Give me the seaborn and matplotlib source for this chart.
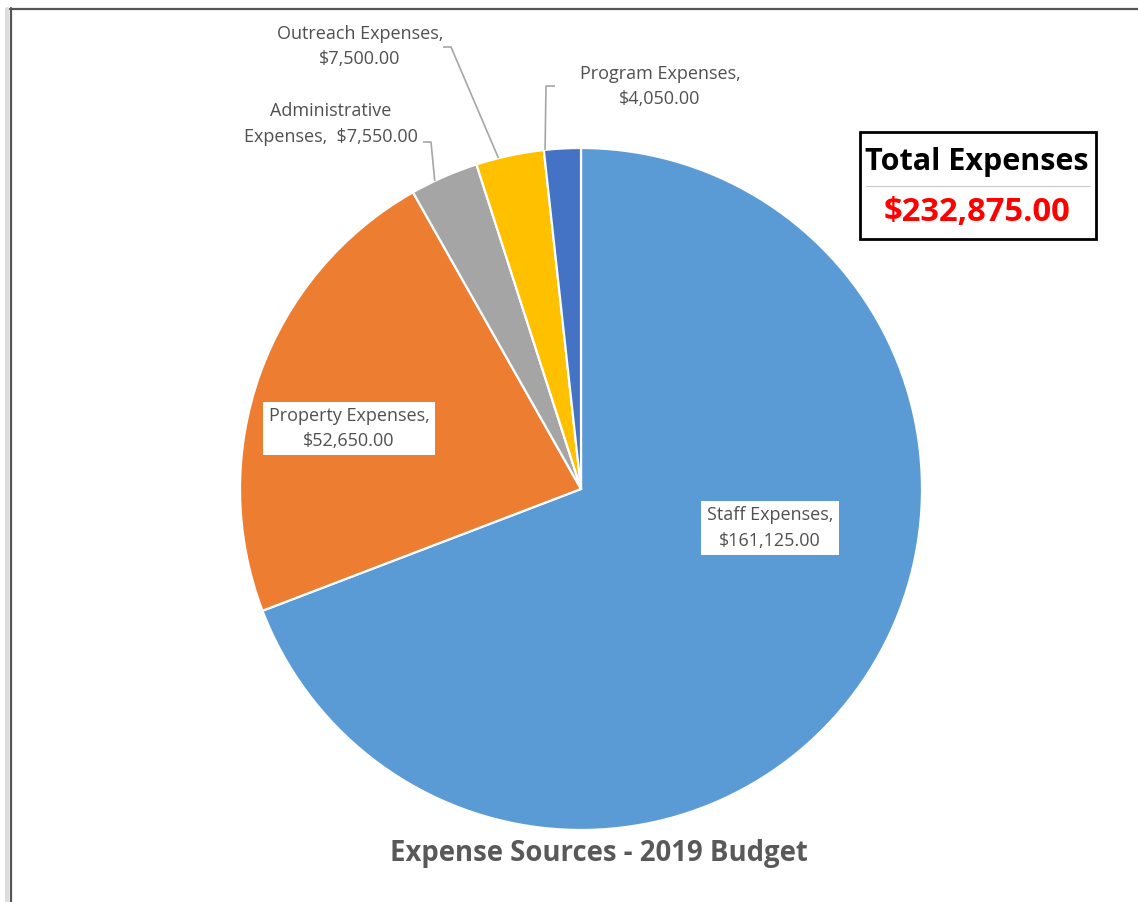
import matplotlib
matplotlib.use("Agg")
import matplotlib.pyplot as plt
import seaborn as sns
import numpy as np
from matplotlib.lines import Line2D
from matplotlib.patches import Rectangle

# data
categories = ["Staff Expenses", "Property Expenses", "Administrative Expenses",
              "Outreach Expenses", "Program Expenses"]
amounts = [161125, 52650, 7550, 7500, 4050]
colors = ["#5B9BD5", "#ED7D31", "#A5A5A5", "#FFC000", "#4472C4"]
title = "Expense Sources - 2019 Budget"

sns.set_theme(style="white")
plt.rcParams['font.family'] = ['Open Sans', 'DejaVu Sans']

fig = plt.figure(figsize=(11.38, 9.02), dpi=100)
fig.patch.set_facecolor("white")

# pie axes: centre (581, 489) px, radius 341 px
W, H = 1138, 902
cx, cy, r = 581, 489, 341
ax = fig.add_axes([(cx - r) / W, (H - cy - r) / H, 2 * r / W, 2 * r / H])

wedges, _ = ax.pie(amounts, colors=colors, startangle=90, counterclock=False,
                   wedgeprops=dict(edgecolor="white", linewidth=1.6))
ax.set_xlim(-1, 1)
ax.set_ylim(-1, 1)
ax.set_aspect("equal")
ax.axis("off")

def px(x, y):
    return ((x - cx) / r, (cy - y) / r)

# labels text
label_txt = []
for name, v in zip(categories, amounts):
    if name.startswith("Administrative"):
        label_txt.append("Administrative\nExpenses,  ${:,.2f}".format(v))
    else:
        label_txt.append("{},\n${:,.2f}".format(name, v))

label_pos = [px(770, 528), px(349, 428.5), px(331, 124), px(360, 46.5), px(660, 86.5)]
boxed = [True, True, False, False, False]
for t, p, b in zip(label_txt, label_pos, boxed):
    kw = dict(ha="center", va="center", fontsize=13, color="#505050",
              linespacing=1.5)
    if b:
        kw["bbox"] = dict(boxstyle="square,pad=0.3", fc="white", ec="none")
    ax.text(p[0], p[1], t, **kw)

# leader lines for the small slices: (start, knee, fraction along wedge)
leaders = {2: (px(423, 142), px(431, 142), 0.646),
           3: (px(443, 47), px(451, 47), 0.668),
           4: (px(555, 86), px(546, 86), 0.966)}
for i, (s, k, f) in leaders.items():
    w = wedges[i]
    th = np.deg2rad(w.theta1 + f * (w.theta2 - w.theta1))
    ex, ey = np.cos(th), np.sin(th)
    ax.plot([s[0], k[0], ex], [s[1], k[1], ey], color="#A6A6A6", lw=1.2,
            clip_on=False, solid_capstyle="butt")

# title
fig.text(599 / W, 1 - 853 / H, title, ha="center", va="center", fontsize=19.8,
         fontweight="bold", color="#595959")

# total box
bx0, by0, bx1, by1 = 860, 132, 1096, 239
fig.patches.append(Rectangle((bx0 / W, 1 - by1 / H), (bx1 - bx0) / W, (by1 - by0) / H,
                             transform=fig.transFigure, fc="white", ec="black", lw=2.0))
fig.lines.append(Line2D([866 / W, 1090 / W], [1 - 186 / H, 1 - 186 / H],
                        transform=fig.transFigure, color="#C8C8C8", lw=0.8))
total = sum(amounts)
fig.text(977 / W, 1 - 162 / H, "Total Expenses", ha="center", va="center",
         fontsize=22, fontweight="bold", color="black")
fig.text(977 / W, 1 - 212 / H, "${:,.2f}".format(total), ha="center", va="center",
         fontsize=23.6, fontweight="bold", color="#FF0000")

# screenshot frame (left and top edges)
fig.lines.append(Line2D([7 / W, 7 / W], [0, 1 - 9 / H], transform=fig.transFigure,
                        color="#DDDDDD", lw=3))
fig.lines.append(Line2D([10.5 / W, 10.5 / W], [0, 1 - 8 / H], transform=fig.transFigure,
                        color="#555555", lw=1.6))
fig.lines.append(Line2D([10 / W, 1], [1 - 8.5 / H, 1 - 8.5 / H], transform=fig.transFigure,
                        color="#555555", lw=1.6))

fig.savefig("out.png", dpi=100, facecolor="white")
